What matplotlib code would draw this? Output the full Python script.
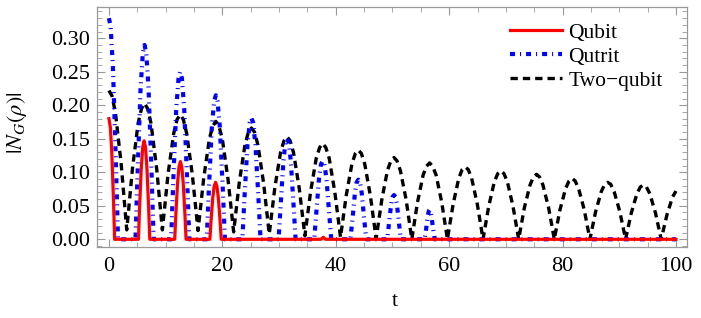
import matplotlib
matplotlib.use("Agg")
import matplotlib.pyplot as plt
from matplotlib.ticker import MultipleLocator

plt.rcParams['font.family'] = ['Liberation Serif', 'DejaVu Serif']
plt.rcParams['mathtext.fontset'] = 'stix'

# Qubit (red)
qubit_t = [0.0, 0.25, 0.5, 0.8, 1.0,
           5.2, 5.4, 5.7, 5.95, 6.2, 6.45, 6.7, 7.0, 7.2,
           11.6, 11.8, 12.1, 12.35, 12.6, 12.85, 13.1, 13.4, 13.6,
           17.8, 18.0, 18.3, 18.55, 18.8, 19.05, 19.3, 19.6, 19.8,
           37.4, 37.8, 38.2, 100.0]
qubit_y = [0.180, 0.167, 0.130, 0.058, 0.0,
           0.0, 0.047, 0.106, 0.137, 0.147, 0.137, 0.106, 0.047, 0.0,
           0.0, 0.037, 0.084, 0.108, 0.116, 0.108, 0.084, 0.037, 0.0,
           0.0, 0.027, 0.061, 0.079, 0.085, 0.079, 0.061, 0.027, 0.0,
           0.0, 0.003, 0.0, 0.0]

# Qutrit (blue)
qutrit_t = [0.0, 0.3, 0.7, 1.2, 1.6,
            4.68, 5.08, 5.58, 5.98, 6.28, 6.58, 6.98, 7.48, 7.88,
            10.97, 11.37, 11.87, 12.27, 12.57, 12.87, 13.27, 13.77, 14.17,
            17.25, 17.65, 18.15, 18.55, 18.85, 19.15, 19.55, 20.05, 20.45,
            23.53, 23.93, 24.43, 24.83, 25.13, 25.43, 25.83, 26.33, 26.73,
            29.92, 30.32, 30.77, 31.12, 31.42, 31.72, 32.07, 32.52, 32.92,
            36.2, 36.6, 37.05, 37.4, 37.7, 38.0, 38.35, 38.8, 39.2,
            42.58, 42.98, 43.38, 43.68, 43.98, 44.28, 44.58, 44.98, 45.38,
            49.07, 49.4, 49.75, 50.0, 50.27, 50.55, 50.8, 51.15, 51.47,
            55.65, 55.95, 56.2, 56.4, 56.55, 56.7, 56.9, 57.15, 57.45,
            100.0]
qutrit_y = [0.330, 0.317, 0.257, 0.122, 0.0,
            0.0, 0.107, 0.226, 0.278, 0.290, 0.278, 0.226, 0.107, 0.0,
            0.0, 0.093, 0.195, 0.240, 0.250, 0.240, 0.195, 0.093, 0.0,
            0.0, 0.080, 0.168, 0.206, 0.215, 0.206, 0.168, 0.080, 0.0,
            0.0, 0.067, 0.141, 0.174, 0.181, 0.174, 0.141, 0.067, 0.0,
            0.0, 0.056, 0.117, 0.144, 0.150, 0.144, 0.117, 0.056, 0.0,
            0.0, 0.043, 0.091, 0.112, 0.117, 0.112, 0.091, 0.043, 0.0,
            0.0, 0.033, 0.069, 0.085, 0.089, 0.085, 0.069, 0.033, 0.0,
            0.0, 0.024, 0.051, 0.063, 0.066, 0.063, 0.051, 0.024, 0.0,
            0.0, 0.016, 0.034, 0.042, 0.044, 0.042, 0.034, 0.016, 0.0,
            0.0]

# Two-qubit (black)
twoq_t = [0.0, 0.54, 1.14, 2.14, 3.14,
          4.14, 5.14, 5.74, 6.28, 6.82, 7.42, 8.42, 9.42,
          10.42, 11.42, 12.02, 12.57, 13.11, 13.71, 14.71, 15.71,
          16.71, 17.71, 18.31, 18.85, 19.39, 19.99, 20.99, 21.99,
          22.99, 23.99, 24.59, 25.13, 25.67, 26.27, 27.27, 28.27,
          29.27, 30.27, 30.87, 31.42, 31.96, 32.56, 33.56, 34.56,
          35.56, 36.56, 37.16, 37.70, 38.24, 38.84, 39.84, 40.84,
          41.84, 42.84, 43.44, 43.98, 44.52, 45.12, 46.12, 47.12,
          48.12, 49.12, 49.72, 50.27, 50.81, 51.41, 52.41, 53.41,
          54.41, 55.41, 56.01, 56.55, 57.09, 57.69, 58.69, 59.69,
          60.69, 61.69, 62.29, 62.83, 63.37, 63.97, 64.97, 65.97,
          66.97, 67.97, 68.57, 69.12, 69.66, 70.26, 71.26, 72.26,
          73.26, 74.26, 74.86, 75.40, 75.94, 76.54, 77.54, 78.54,
          79.54, 80.54, 81.14, 81.68, 82.22, 82.82, 83.82, 84.82,
          85.82, 86.82, 87.42, 87.96, 88.50, 89.10, 90.10, 91.11,
          92.11, 93.11, 93.71, 94.25, 94.79, 95.39, 96.39, 97.39,
          98.39, 99.39, 100.0]
twoq_y = [0.222, 0.214, 0.189, 0.114, 0.014,
          0.105, 0.173, 0.195, 0.203, 0.195, 0.173, 0.105, 0.014,
          0.097, 0.158, 0.179, 0.186, 0.179, 0.158, 0.096, 0.013,
          0.091, 0.150, 0.169, 0.176, 0.169, 0.150, 0.090, 0.011,
          0.085, 0.141, 0.160, 0.166, 0.160, 0.141, 0.084, 0.008,
          0.078, 0.130, 0.147, 0.153, 0.147, 0.129, 0.076, 0.005,
          0.071, 0.121, 0.137, 0.143, 0.137, 0.121, 0.070, 0.003,
          0.065, 0.112, 0.128, 0.133, 0.128, 0.112, 0.064, 0.001,
          0.059, 0.103, 0.117, 0.122, 0.117, 0.102, 0.059, 0.0,
          0.055, 0.096, 0.109, 0.114, 0.109, 0.096, 0.055, 0.0,
          0.052, 0.091, 0.104, 0.108, 0.104, 0.091, 0.052, 0.0,
          0.049, 0.086, 0.098, 0.102, 0.098, 0.086, 0.049, 0.0,
          0.047, 0.081, 0.093, 0.097, 0.093, 0.081, 0.047, 0.0,
          0.044, 0.076, 0.087, 0.091, 0.087, 0.076, 0.044, 0.0,
          0.041, 0.071, 0.082, 0.085, 0.082, 0.071, 0.041, 0.0,
          0.039, 0.068, 0.078, 0.081, 0.078, 0.068, 0.039, 0.0,
          0.036, 0.063, 0.072]

labels = ['Qubit', 'Qutrit', 'Two\u2212qubit']

fig = plt.figure(figsize=(7.01, 3.18), dpi=100)
ax = fig.add_axes([0.139, 0.2233, 0.841, 0.7547])

ax.plot(qubit_t, qubit_y, color='#ff0000', lw=2.3, label=labels[0], zorder=4)
ax.plot(qutrit_t, qutrit_y, color='#0000ff', lw=3.0, dashes=(1.2, 1.2, 0.25, 1.2),
        dash_capstyle='butt', label=labels[1], zorder=3)
ax.plot(twoq_t, twoq_y, color='black', lw=2.4, dashes=(2.2, 1.5),
        dash_capstyle='butt', label=labels[2], zorder=2)

ax.set_xlim(-2.03, 101.94)
ax.set_ylim(-0.0115, 0.3467)
ax.xaxis.set_major_locator(MultipleLocator(20))
ax.xaxis.set_minor_locator(MultipleLocator(5))
ax.yaxis.set_major_locator(MultipleLocator(0.05))
ax.yaxis.set_minor_locator(MultipleLocator(0.01))
ax.yaxis.set_major_formatter(lambda v, p: '%.2f' % v)

ax.tick_params(which='both', direction='in', top=True, right=True,
               color='#999999', labelsize=16)
ax.tick_params(which='major', length=6, width=0.8)
ax.tick_params(which='minor', length=3.5, width=0.6)
ax.tick_params(axis='y', pad=5.5)
ax.tick_params(axis='x', pad=7)
for s in ax.spines.values():
    s.set_color('#999999')
    s.set_linewidth(0.9)

fig.text(0.563, 0.0377, 't', ha='center', va='baseline', fontsize=16)
fig.text(0.0243, 0.613, r'$|N_G(\rho)|$', rotation=90, ha='center', va='center',
         fontsize=16)

ax.legend(loc='upper left', bbox_to_anchor=(0.70, 0.935), frameon=False,
          borderpad=0, borderaxespad=0, fontsize=15.5, handlelength=2.4,
          handletextpad=0.3, labelspacing=0.19)

fig.savefig('out.png', dpi=100)
